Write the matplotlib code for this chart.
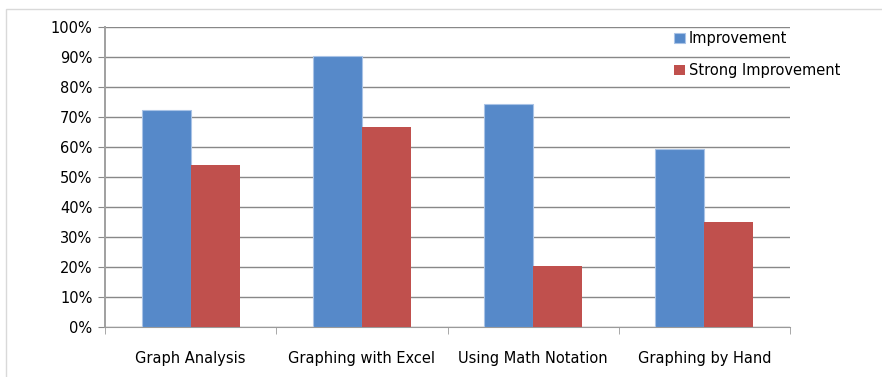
import matplotlib.pyplot as plt
import numpy as np
from matplotlib.patches import Rectangle
from matplotlib.ticker import PercentFormatter

categories = ["Graph Analysis", "Graphing with Excel", "Using Math Notation", "Graphing by Hand"]
improvement = [72.5, 90.3, 74.5, 59.3]
strong_improvement = [54.0, 66.7, 20.2, 35.0]

plt.rcParams['font.family'] = ['Liberation Sans Narrow', 'DejaVu Sans']

blue = "#5689C9"
red = "#C0504D"

fig = plt.figure(figsize=(8.82, 3.77), dpi=100)
# chart frame
fig.patches.append(Rectangle((6 / 882, -0.05), 1.0, 1 - 9 / 377 + 0.05, transform=fig.transFigure,
                             fill=False, edgecolor="#D9D9D9", linewidth=1.0))

ax = fig.add_axes([105 / 882, 50 / 377, 685 / 882, 300 / 377])

x = np.arange(len(categories))
w = 0.286
ax.bar(x - w / 2, improvement, w, color=blue, edgecolor="#A9C3E6", linewidth=0.8,
       label="Improvement", zorder=3)
ax.bar(x + w / 2, strong_improvement, w, color=red, label="Strong Improvement", zorder=3)

ax.set_xlim(-0.5, len(categories) - 0.5)
ax.set_ylim(0, 100)
ax.set_yticks(np.arange(0, 101, 10))
ax.yaxis.set_major_formatter(PercentFormatter(decimals=0))
ax.set_xticks(x)
ax.set_xticklabels(categories)
ax.set_xticks(np.arange(-0.5, len(categories), 1), minor=True)
ax.tick_params(axis='x', which='major', length=0, pad=17, labelsize=10.5)
ax.tick_params(axis='x', which='minor', length=5, color="#9A9A9A")
ax.tick_params(axis='y', length=5, color="#888888", labelsize=10.5, pad=4)
ax.grid(axis='y', color="#888888", linewidth=1.0, zorder=0)

for side in ["top", "right"]:
    ax.spines[side].set_visible(False)
ax.spines["left"].set_color("#A0A0A0")
ax.spines["left"].set_linewidth(1.4)
ax.spines["bottom"].set_color("#9A9A9A")

fig.legend(loc="upper left", bbox_to_anchor=(667 / 882, 1 - 24 / 377), frameon=False,
           fontsize=10.5, handlelength=0.7, handleheight=0.7, handletextpad=0.3,
           labelspacing=1.15, borderpad=0)

fig.savefig("out.png", dpi=100)
